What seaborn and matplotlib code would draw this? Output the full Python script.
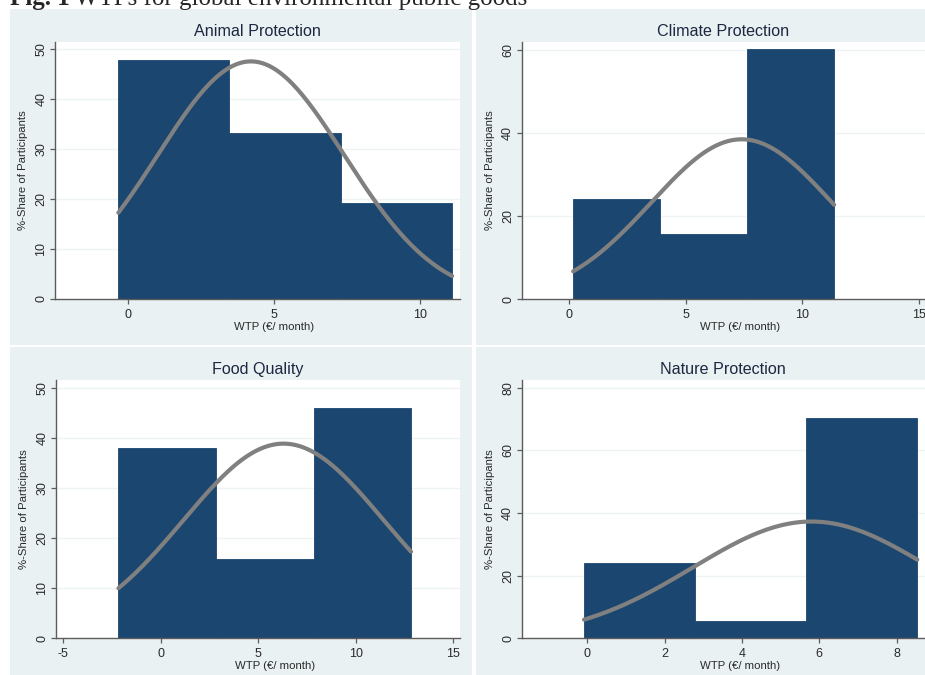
import numpy as np
import pandas as pd
import matplotlib
matplotlib.use("Agg")
import matplotlib.pyplot as plt
from matplotlib.patches import Rectangle
import seaborn as sns

# ---- data -------------------------------------------------------------
titles = ["Animal Protection", "Climate Protection", "Food Quality", "Nature Protection"]

# histogram bin edges (WTP, EUR / month) and share of participants per bin (%)
edges_animal = [-0.34, 3.46, 7.27, 11.09]
share_animal = [47.8, 33.2, 19.2]
edges_climate = [0.17, 3.90, 7.63, 11.37]
share_climate = [24.2, 15.7, 60.2]
edges_food = [-2.17, 2.84, 7.84, 12.84]
share_food = [38.1, 15.9, 46.0]
edges_nature = [-0.08, 2.79, 5.66, 8.53]
share_nature = [24.0, 5.6, 70.4]

# fitted normal density (mean, sd) overlaid on each histogram
normal_mean = [4.2, 7.4, 6.3, 5.8]
normal_sd = [3.19, 3.87, 5.14, 3.07]

# axis ticks and ranges
xticks = [[0, 5, 10], [0, 5, 10, 15], [-5, 0, 5, 10, 15], [0, 2, 4, 6, 8]]
yticks = [[0, 10, 20, 30, 40, 50], [0, 20, 40, 60], [0, 10, 20, 30, 40, 50], [0, 20, 40, 60, 80]]
xlims = [(-2.51, 11.36), (-2.04, 15.27), (-5.37, 15.35), (-1.69, 8.73)]
ylims = [(0, 51.4), (0, 61.9), (0, 51.6), (0, 82.5)]

x_title = "WTP (\u20ac/ month)"
y_title = "%-Share of Participants"
caption_bold = "Fig. 1"
caption_rest = " WTPs for global environmental public goods"

edges_all = [edges_animal, edges_climate, edges_food, edges_nature]
share_all = [share_animal, share_climate, share_food, share_nature]

# ---- style ------------------------------------------------------------
sns.set_theme(style="white")
plt.rcParams["font.family"] = ["Liberation Sans", "DejaVu Sans"]

W, H = 925, 675
fig = plt.figure(figsize=(W / 100, H / 100), dpi=100)
fig.patch.set_facecolor("white")

PANEL_BG = "#e9f1f2"
BAR = "#1b4670"
CURVE = "#808080"
AXIS = "#5c5c5c"
TEXT = "#2a2a2a"


def px_rect(x0, y0, x1, y1):
    """Pixel box (origin top-left) -> figure fraction [l, b, w, h]."""
    return [x0 / W, 1 - y1 / H, (x1 - x0) / W, (y1 - y0) / H]


# panel backgrounds
for (x0, y0, x1, y1) in [(10, 9, 472, 345), (476, 9, 940, 345),
                         (10, 347, 472, 690), (476, 347, 940, 690)]:
    l, b, w, h = px_rect(x0, y0, x1, y1)
    fig.patches.append(Rectangle((l, b), w, h, transform=fig.transFigure,
                                 facecolor=PANEL_BG, edgecolor="none", zorder=-10))

axes_boxes = [(55, 42, 460, 299), (521.7, 41.7, 925, 299.3),
              (56, 380, 460, 638.3), (521.7, 380, 925, 638.3)]

for i, box in enumerate(axes_boxes):
    ax = fig.add_axes(px_rect(*box))
    ax.set_zorder(1)
    ax.set_facecolor("white")
    edges = list(edges_all[i])
    share = list(share_all[i])
    centers = [(a + b) / 2 for a, b in zip(edges[:-1], edges[1:])]
    df = pd.DataFrame({"wtp": centers, "share": share})

    for yt in yticks[i][1:]:
        ax.axhline(yt, color="#eef3f4", lw=1.0, zorder=0)

    sns.histplot(data=df, x="wtp", weights="share", bins=edges, stat="count",
                 color=BAR, alpha=1.0, edgecolor=BAR, linewidth=0.6, ax=ax, zorder=2)

    width = edges[1] - edges[0]
    xs = np.linspace(edges[0], edges[-1], 200)
    mu, sd = normal_mean[i], normal_sd[i]
    dens = 100 * width * np.exp(-0.5 * ((xs - mu) / sd) ** 2) / (sd * np.sqrt(2 * np.pi))
    sns.lineplot(x=xs, y=dens, color=CURVE, lw=3.0, ax=ax, zorder=3,
                 solid_capstyle="round")

    ax.set_xlim(*xlims[i])
    ax.set_ylim(*ylims[i])
    ax.set_xticks(xticks[i])
    ax.set_yticks(yticks[i])
    ax.set_xticklabels([str(t) for t in xticks[i]])
    ax.set_yticklabels([str(t) for t in yticks[i]], rotation=90, va="center")

    for s in ["top", "right"]:
        ax.spines[s].set_visible(False)
    for s in ["left", "bottom"]:
        ax.spines[s].set_color(AXIS)
        ax.spines[s].set_linewidth(1.0)
    ax.tick_params(axis="both", direction="out", length=3.5, width=0.9,
                   color=AXIS, labelsize=9, labelcolor=TEXT,
                   bottom=True, left=True)
    ax.tick_params(axis="x", pad=3.5)
    ax.tick_params(axis="y", pad=2)

    ax.set_xlabel(x_title, fontsize=8.2, color=TEXT)
    ax.set_ylabel(y_title, fontsize=8.2, color=TEXT)
    ah = box[3] - box[1]
    aw = box[2] - box[0]
    ax.xaxis.set_label_coords(0.541, -28 / ah)
    ax.yaxis.set_label_coords(-32 / aw, 0.5)
    ax.xaxis.label.set_va("center")
    ax.yaxis.label.set_va("center")

    ax.set_title(titles[i], fontsize=11.6, color="#1d2742", pad=4)

# figure caption, partly above the top edge of the canvas
fig.text(10 / W, 1 - 4.5 / H, caption_bold, fontsize=18, fontweight="bold",
         family=["Liberation Serif", "DejaVu Serif"], va="baseline", ha="left")
fig.text(69 / W, 1 - 4.5 / H, caption_rest, fontsize=18,
         family=["Liberation Serif", "DejaVu Serif"], va="baseline", ha="left")

fig.savefig("out.png", dpi=100, facecolor="white")
